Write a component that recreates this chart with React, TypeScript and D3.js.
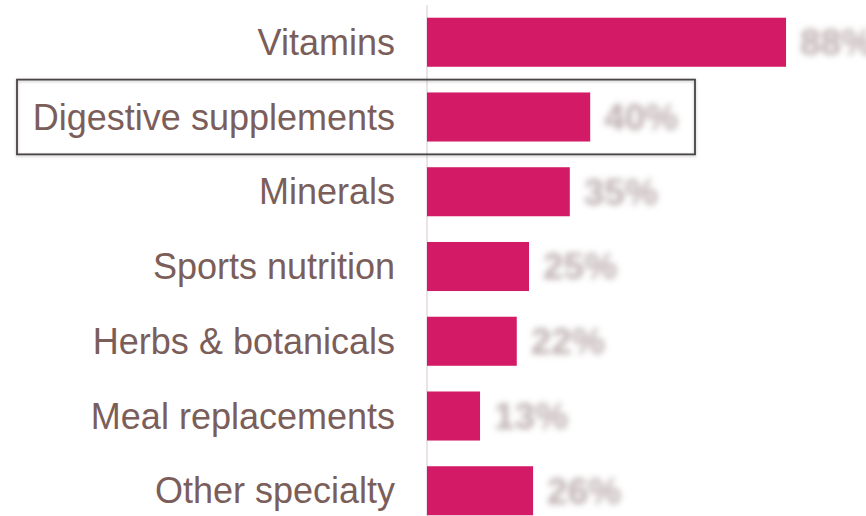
import React from 'react'
import * as d3 from 'd3'

const CATEGORIES = [
  'Vitamins',
  'Digestive supplements',
  'Minerals',
  'Sports nutrition',
  'Herbs & botanicals',
  'Meal replacements',
  'Other specialty',
]
const SHARES = [88, 40, 35, 25, 22, 13, 26]
const HIGHLIGHT = 'Digestive supplements'

const W = 866
const H = 516
const AXIS_X = 427

export default function App() {
  const x = d3.scaleLinear().domain([0, 100]).range([AXIS_X, AXIS_X + 408])
  const y = d3.scaleBand<string>().domain(CATEGORIES).range([-8, 541]).padding(0.344)
  const step = y.step()
  const bw = y.bandwidth()
  const hy = (y(HIGHLIGHT) ?? 0) - (step - bw) / 2

  return (
    <svg
      width={W}
      height={H}
      style={{ position: 'absolute', left: 0, top: 0, background: '#fff' }}
      fontFamily="Liberation Sans, Arial, sans-serif"
    >
      <defs>
        <filter id="blur" x="-20%" y="-40%" width="140%" height="180%">
          <feGaussianBlur stdDeviation="3.2" />
        </filter>
        <filter id="shadow" x="-5%" y="-20%" width="110%" height="140%">
          <feDropShadow dx="0" dy="1" stdDeviation="1.5" floodColor="#000" floodOpacity="0.25" />
        </filter>
      </defs>

      <line x1={AXIS_X} x2={AXIS_X} y1={5} y2={H} stroke="#e6dadf" strokeWidth={1.5} />

      {CATEGORIES.map((c, i) => {
        const by = y(c) ?? 0
        const cy = by + bw / 2
        return (
          <g key={c}>
            <rect x={x(0)} y={by} width={x(SHARES[i]) - x(0)} height={bw} fill="#d31a66" />
            <text
              x={AXIS_X - 32}
              y={cy}
              dy="0.35em"
              textAnchor="end"
              fontSize={36}
              fill="#7b5e5a"
            >
              {c}
            </text>
            <text
              x={x(SHARES[i]) + 14}
              y={cy}
              dy="0.35em"
              fontSize={37}
              fontWeight="bold"
              fill="#bcadad"
              filter="url(#blur)"
            >
              {SHARES[i]}%
            </text>
          </g>
        )
      })}

      <rect
        x={17}
        y={hy}
        width={678}
        height={step}
        fill="none"
        stroke="#4a4444"
        strokeWidth={1.8}
        filter="url(#shadow)"
      />
    </svg>
  )
}
